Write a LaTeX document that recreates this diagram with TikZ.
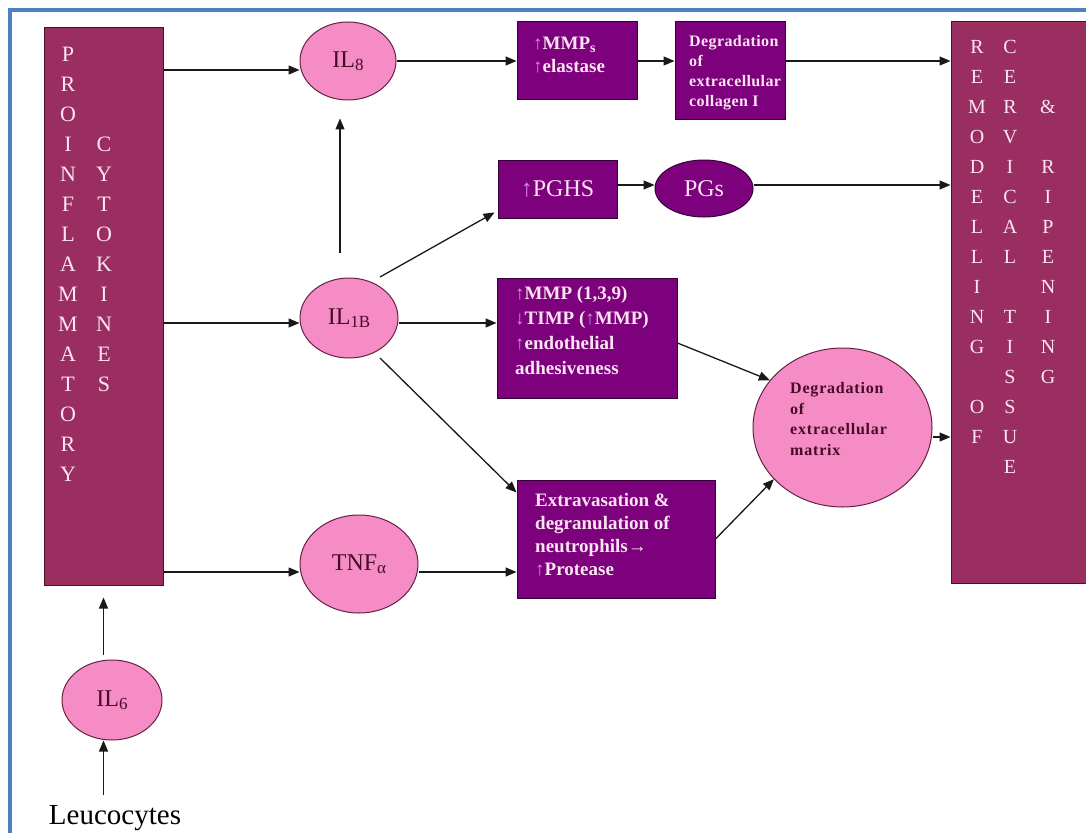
\documentclass[tikz,border=0pt]{standalone}
\usepackage{fontspec}
\setmainfont{Liberation Serif}
\usetikzlibrary{arrows.meta,shapes.geometric}
\definecolor{maroonbox}{RGB}{154,46,96}
\definecolor{maroonedge}{RGB}{70,20,40}
\definecolor{purplebox}{RGB}{125,0,125}
\definecolor{purpleedge}{RGB}{55,0,55}
\definecolor{pinkfill}{RGB}{245,140,198}
\definecolor{pinkedge}{RGB}{100,35,65}
\definecolor{lighttext}{RGB}{252,228,242}
\definecolor{darktext}{RGB}{70,12,38}
\definecolor{framecol}{RGB}{79,129,189}
\definecolor{arrpink}{RGB}{215,140,225}
\newcommand\upar{{\color{arrpink}↑}}
\newcommand\dnar{{\color{arrpink}↓}}
\newcommand\lowsub[2]{{\fontsize{#1}{#1}\selectfont\raisebox{-3pt}{#2}}}
\begin{document}
\begin{tikzpicture}[x=1pt,y=-1pt,
  arr/.style={draw=black!90, line width=1.3pt, -{Triangle[length=11pt,width=9pt]}},
  tallbox/.style={draw=maroonedge, fill=maroonbox, line width=1pt, inner sep=0pt},
  pbox/.style={draw=purpleedge, fill=purplebox, line width=1pt, inner sep=0pt, text=lighttext},
  pell/.style={ellipse, draw=pinkedge, fill=pinkfill, line width=1pt, inner sep=0pt, text=darktext, font=\fontsize{24}{24}\selectfont},
  vlet/.style={text=lighttext, inner sep=0pt},
  tnode/.style={inner sep=0pt, anchor=west, align=left},
]
\useasboundingbox (0,0) rectangle (1086,832);
\clip (0,0) rectangle (1086,832);
\fill[white] (0,0) rectangle (1086,832);
\draw[line width=4pt, framecol] (10,10) rectangle (1200,950);

% tall boxes
\node[tallbox, minimum width=119pt, minimum height=557pt] (pro) at (103.5,306.5) {};
\node[tallbox, minimum width=160pt, minimum height=561pt] (rbox) at (1031,302.5) {};

\foreach \ch [count=\i from 0] in {P,R,O,I,N,F,L,A,M,M,A,T,O,R,Y}
  \node[vlet, font=\fontsize{22}{22}\selectfont] (pa\i) at (68,{54+30*\i}) {\ch};
\foreach \ch [count=\i from 3] in {C,Y,T,O,K,I,N,E,S}
  \node[vlet, font=\fontsize{22}{22}\selectfont] (pb\i) at (104,{54+30*\i}) {\ch};

\foreach \ch [count=\i from 0] in {R,E,M,O,D,E,L,L,I,N,G,{},O,F}
  \node[vlet, font=\fontsize{20}{20}\selectfont] (ra\i) at (977,{47+30*\i}) {\ch};
\foreach \ch [count=\i from 0] in {C,E,R,V,I,C,A,L,{},T,I,S,S,U,E}
  \node[vlet, font=\fontsize{20}{20}\selectfont] (rb\i) at (1010,{47+30*\i}) {\ch};
\foreach \ch [count=\i from 2] in {\&,{},R,I,P,E,N,I,N,G}
  \node[vlet, font=\fontsize{20}{20}\selectfont] (rc\i) at (1048,{47+30*\i}) {\ch};

% pink ellipses
\node[pell, minimum width=96pt, minimum height=78pt] (il8) at (348,61) {IL\lowsub{17}{8}};
\node[pell, minimum width=98pt, minimum height=80pt] (il1b) at (349,318) {IL\lowsub{17}{1B}};
\node[pell, minimum width=118pt, minimum height=98pt] (tnf) at (359,564) {TNF\lowsub{17}{α}};
\node[pell, minimum width=100pt, minimum height=80pt] (il6) at (112,700) {IL\lowsub{17}{6}};
\node[pell, minimum width=179pt, minimum height=159pt] (degmat) at (842.5,427.5) {};
\node[tnode, text=darktext, font=\bfseries\fontsize{16}{20.5}\selectfont\addfontfeatures{LetterSpace=5}] (degmattext) at (790,419)
  {Degradation\\of\\extracellular\\matrix};

% purple boxes
\node[pbox, minimum width=120pt, minimum height=78pt] (mmps) at (577,61) {};
\node[tnode, text=lighttext, font=\bfseries\fontsize{19}{23}\selectfont] (mmpstext) at (533,55)
  {\upar MMP\lowsub{14}{s}\\\upar elastase};
\node[pbox, minimum width=110pt, minimum height=98pt] (degcol) at (730,71) {};
\node[tnode, text=lighttext, font=\bfseries\fontsize{16}{20}\selectfont\addfontfeatures{LetterSpace=2.5}] (degcoltext) at (689,73)
  {Degradation\\of\\extracellular\\collagen I};
\node[pbox, minimum width=119pt, minimum height=58pt, font=\fontsize{24}{24}\selectfont] (pghs) at (557.5,189) {\upar PGHS};
\node[ellipse, draw=purpleedge, fill=purplebox, line width=1pt, inner sep=0pt, text=lighttext,
  minimum width=98pt, minimum height=57pt, font=\fontsize{24}{24}\selectfont] (pgs) at (704,188.5) {PGs};
\node[pbox, minimum width=180pt, minimum height=120pt] (mmp) at (587,338) {};
\node[tnode, text=lighttext, font=\bfseries\fontsize{19}{25}\selectfont] (mmptext) at (515,330)
  {\upar MMP (1,3,9)\\\dnar TIMP (\upar MMP)\\\upar endothelial\\adhesiveness};
\node[pbox, minimum width=198pt, minimum height=118pt] (extrav) at (616,539) {};
\node[tnode, text=lighttext, font=\bfseries\fontsize{19}{23}\selectfont] (extravtext) at (535,535)
  {Extravasation \&\\degranulation of\\neutrophils→\\\upar Protease};

% Leucocytes
\node[inner sep=0pt, anchor=base, font=\fontsize{29}{29}\selectfont] (leuc) at (115,824) {Leucocytes};
\coordinate (lstart) at (103.5,795);

% connectors
\draw[arr] (pro.east |- 0,70) -- (il8.west |- 0,70);
\draw[arr] (pro.east |- 0,323) -- (il1b.west |- 0,323);
\draw[arr] (pro.east |- 0,572) -- (tnf.west |- 0,572);
\draw[arr, shorten <=5pt, shorten >=12pt] (il6.north -| pro.south) -- (pro.south);
\draw[arr] (lstart) -- (lstart |- il6.south);
\draw[arr, shorten <=25pt, shorten >=18pt] (il1b.north -| 340,0) -- (il8.south -| 340,0);
\draw[arr] ([shift={(31,-41)}]il1b.center) -- ([shift={(-3,-6)}]pghs.south west);
\draw[arr] (il1b.east |- 0,323) -- (mmp.west |- 0,323);
\draw[arr] ([shift={(31,40)}]il1b.center) -- ([shift={(0,13)}]extrav.north west);
\draw[arr] (tnf.east |- 0,572) -- (extrav.west |- 0,572);
\draw[arr] (il8.east) -- (mmps.west);
\draw[arr] (mmps.east) -- (degcol.west |- mmps.east);
\draw[arr] (degcol.east |- mmps.east) -- (rbox.west |- mmps.east);
\draw[arr] (pghs.east |- 0,185) -- (pgs.west |- 0,185);
\draw[arr] (pgs.east |- 0,185) -- (rbox.west |- 0,185);
\draw[arr] ([yshift=-5pt]mmp.east) -- (degmat.147);
\draw[arr] (extrav.east) -- (degmat.217);
\draw[arr] (degmat.east |- 0,437) -- (rbox.west |- 0,437);
\end{tikzpicture}
\end{document}
